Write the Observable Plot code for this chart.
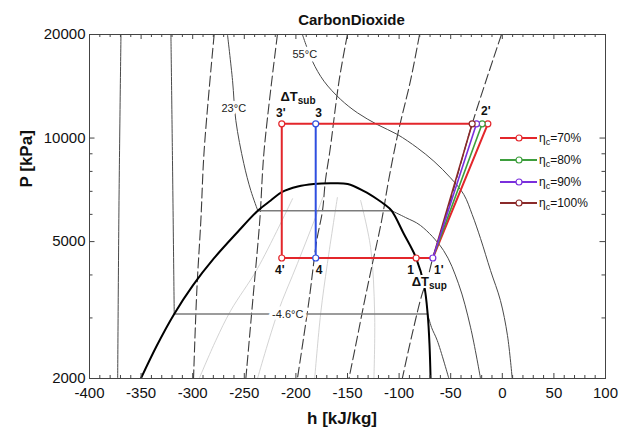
<!DOCTYPE html>
<html>
<head>
<meta charset="utf-8">
<script src="https://cdn.jsdelivr.net/npm/d3@7"></script>
<script src="https://cdn.jsdelivr.net/npm/@observablehq/plot@0.6"></script>
<style>
  body { margin: 0; background: #fff; }
  #wrap { position: relative; width: 640px; height: 440px; font-family: "Liberation Sans", Arial, sans-serif; }
  .lg { position: absolute; left: 500px; height: 16px; display: flex; align-items: center; font-size: 12px; color: #111; white-space: nowrap; }
  .lg svg { display: block; }
  .lg span { margin-left: 1px; }
  .lg sub { font-size: 9px; vertical-align: -3px; line-height: 0; }
</style>
</head>
<body>
<div id="wrap"></div>
<script>
// ---------- axis ticks ----------
const xTickLabels = [-400, -350, -300, -250, -200, -150, -100, -50, 0, 50, 100];
const yTickLabels = [2000, 5000, 10000, 20000];
const yMinorTicks = [3000, 4000, 6000, 7000, 8000, 9000];

// ---------- saturation dome ----------
const domeH = [-350.2, -334.7, -317.9, -299.8, -279.5, -256.9, -236.9, -224.4, -213.7, -198.2, -182.7, -166.3,
               -149.8, -134.1, -120.8, -114.0, -107.3, -95.6, -83.5, -75.7, -72.2, -70.5, -69.5];
const domeP = [2000, 2494, 3080, 3729, 4466, 5315, 6150, 6585, 6958, 7228, 7352, 7386,
               7352, 7006, 6628, 6408, 6150, 5278, 4480, 3729, 3048, 2494, 2000];

// ---------- isotherms ----------
const tLowH = [-369.5, -371.4, -372.7];
const tLowP = [20000, 6585, 2000];
const tM46LiqH = [-321.1, -319.7, -317.9];
const tM46LiqP = [20000, 9200, 3080];
const tM46TwoH = [-317.9, -72.4];
const tM46TwoP = [3080, 3080];
const tM46VapH = [-72.4, -68.5, -63.0, -51.8];
const tM46VapP = [3080, 2812, 2578, 2000];
const t23LiqH = [-266.3, -261.4, -258.2, -250.5, -243.7, -236.9];
const t23LiqP = [20000, 14707, 11247, 8434, 7038, 6150];
const t23TwoH = [-236.9, -107.3];
const t23TwoP = [6150, 6150];
const t23VapH = [-107.3, -93.7, -79.3, -56.9, -42.4, -30.8, -21.1];
const t23VapP = [6150, 5874, 5571, 4710, 3770, 2820, 2000];
const t55H = [-193.7, -184.0, -172.8, -156.6, -140.4, -121.1, -101.7, -82.4, -66.3, -50.2, -37.3, -29.2, -21.1, -11.4, -1.8, 5.0, 9.6];
const t55P = [20000, 16727, 14632, 12948, 11841, 10944, 10244, 9368, 8562, 7663, 6853, 5995, 5106, 4120, 3370, 2668, 2000];
const isoLabels = ["23°C", "55°C", "-4.6°C"];
const isoLabelH = [-260.2, -191.4, -207.9];
const isoLabelP = [12186, 17492, 3080];

// ---------- isentropes (dashed) ----------
const s1H = [-279.2, -288.9, -292.1, -296.0, -299.2];
const s1P = [20000, 9202, 5758, 3606, 2000];
const s2H = [-217.9, -230.8, -235.0, -241.8, -248.5];
const s2P = [20000, 9202, 5758, 3370, 2000];
const s3H = [-150.1, -158.1, -167.0, -171.4, -174.3, -179.8, -187.3, -198.5];
const s3P = [20000, 14707, 9202, 7526, 6128, 5038, 3370, 2000];
const s4H = [-80.2, -88.9, -100.5, -110.2, -116.9, -125.6, -133.4, -141.1, -148.6];
const s4P = [20000, 14707, 10520, 7526, 5758, 4348, 3370, 2580, 2000];
const s5H = [-0.8, -29.2, -50.2, -59.8, -67.3, -73.4, -77.5, -87.9, -96.9];
const s5P = [20000, 11000, 6585, 5244, 4480, 3805, 3534, 2649, 2000];

// ---------- constant-quality lines ----------
const q1H = [-293.7, -277.6, -263.1, -237.2, -203.3];
const q1P = [2000, 2580, 3153, 4177, 6660];
const q2H = [-237.2, -217.9, -198.5, -179.2, -174.0];
const q2P = [2000, 3090, 4319, 6076, 6718];
const q3H = [-181.8, -176.0, -169.5, -159.8];
const q3P = [2000, 3090, 4319, 6718];
const q4H = [-124.4, -123.7, -127.6, -137.3];
const q4P = [2000, 3090, 4806, 6585];

// ---------- cycle state points ----------
const pLow = 4480, pHigh = 11000;
const h1 = -83.5, h1p = -67.3, h3 = -180.8, h3p = -213.7;
const etaLabels = ["70%", "80%", "90%", "100%"];
const h2p = [-14.0, -19.5, -25.0, -29.2];
const etaColors = ["#e3262b", "#3d9e3d", "#7a2fdc", "#8a2a2a"];
const cRed = "#e3262b", cBlue = "#2f4fe0";

const pts = (H, P) => H.map((h, i) => ({h, P: P[i]}));
const ln = (H, P, o) => Plot.line(pts(H, P), {x: "h", y: "P", clip: true, ...o});

const isoStyle = {stroke: "#4a4a4a", strokeWidth: 1, curve: "catmull-rom"};
const twoStyle = {stroke: "#7c7c7c", strokeWidth: 1.4};
const sStyle = {stroke: "#3c3c3c", strokeWidth: 1.1, strokeDasharray: "10,4", curve: "catmull-rom"};
const qStyle = {stroke: "#c8c8c8", strokeWidth: 0.8, curve: "catmull-rom"};

const cycle = [
  {h: h2p[0], P: pHigh}, {h: h3p, P: pHigh}, {h: h3p, P: pLow}, {h: h1p, P: pLow}, {h: h2p[0], P: pHigh}
];
const compLines = [1, 3, 2].map(i => [{h: h1p, P: pLow, c: etaColors[i]}, {h: h2p[i], P: pHigh, c: etaColors[i]}]).flat();
const dots = [
  {h: h3p, P: pHigh, c: cRed}, {h: h3p, P: pLow, c: cRed}, {h: h1, P: pLow, c: cRed},
  {h: h3, P: pHigh, c: cBlue}, {h: h3, P: pLow, c: cBlue},
  {h: h1p, P: pLow, c: etaColors[2]},
  ...h2p.map((h, i) => ({h, P: pHigh, c: etaColors[i]}))
];
const ptLabel = (h, P, t, dx, dy) => Plot.text([{h, P}], {x: "h", y: "P", text: () => t, dx, dy,
  fontWeight: "bold", fontSize: 12, fill: "#111"});

const FH = 344, FW = 516;
const xMinor = d3.range(-400, 101, 10).filter(v => v % 50 !== 0);

const chart = Plot.plot({
  width: 640, height: 440,
  marginTop: 34, marginRight: 35, marginBottom: 62, marginLeft: 89,
  style: {fontFamily: "'Liberation Sans', Arial, sans-serif", fontSize: "15px", background: "white", color: "#222", overflow: "visible"},
  x: {domain: [-400, 100]},
  y: {type: "log", domain: [2000, 20000]},
  color: {type: "identity"},
  marks: [
    // quality lines
    ln(q1H, q1P, qStyle), ln(q2H, q2P, qStyle), ln(q3H, q3P, qStyle), ln(q4H, q4P, qStyle),
    // isentropes
    ln(s1H, s1P, sStyle), ln(s2H, s2P, sStyle), ln(s3H, s3P, sStyle), ln(s4H, s4P, sStyle), ln(s5H, s5P, sStyle),
    // isotherms
    ln(tLowH, tLowP, isoStyle),
    ln(tM46LiqH, tM46LiqP, isoStyle), ln(tM46VapH, tM46VapP, isoStyle), ln(tM46TwoH, tM46TwoP, twoStyle),
    ln(t23LiqH, t23LiqP, isoStyle), ln(t23VapH, t23VapP, isoStyle), ln(t23TwoH, t23TwoP, twoStyle),
    ln(t55H, t55P, isoStyle),
    Plot.text(isoLabels.map((t, i) => ({t, h: isoLabelH[i], P: isoLabelP[i]})),
      {x: "h", y: "P", text: "t", fontSize: 11, fill: "#222", stroke: "white", strokeWidth: 7}),
    // dome
    ln(domeH, domeP, {stroke: "#000", strokeWidth: 2, curve: "catmull-rom"}),
    // cycle
    Plot.line(cycle, {x: "h", y: "P", stroke: cRed, strokeWidth: 2}),
    Plot.line(compLines, {x: "h", y: "P", z: "c", stroke: "c", strokeWidth: 1.6}),
    Plot.line([{h: h3, P: pHigh}, {h: h3, P: pLow}], {x: "h", y: "P", stroke: cBlue, strokeWidth: 2}),
    Plot.dot(dots, {x: "h", y: "P", r: 3, fill: "white", stroke: "c", strokeWidth: 1.2}),
    // point labels
    ptLabel(h3p, pHigh, "3'", -1, -11),
    ptLabel(h3, pHigh, "3", 3, -11),
    ptLabel(h3p, pLow, "4'", -2, 12),
    ptLabel(h3, pLow, "4", 3.5, 12),
    ptLabel(h1, pLow, "1", -5.5, 12),
    ptLabel(h1p, pLow, "1'", 6, 12),
    ptLabel(h2p[0], pHigh, "2'", -2, -13),
    // delta T labels
    Plot.text([{h: (h3p + h3) / 2, P: pHigh}], {x: "h", y: "P", text: () => "ΔT", textAnchor: "end", dx: -1, dy: -27,
      fontWeight: "bold", fontSize: 13, fill: "#111"}),
    Plot.text([{h: (h3p + h3) / 2, P: pHigh}], {x: "h", y: "P", text: () => "sub", textAnchor: "start", dx: -1, dy: -23,
      fontWeight: "bold", fontSize: 10, fill: "#111"}),
    Plot.text([{h: (h1 + h1p) / 2, P: pLow}], {x: "h", y: "P", text: () => "ΔT", textAnchor: "end", dx: 4.5, dy: 24,
      fontWeight: "bold", fontSize: 13, fill: "#111", stroke: "white", strokeWidth: 4}),
    Plot.text([{h: (h1 + h1p) / 2, P: pLow}], {x: "h", y: "P", text: () => "sup", textAnchor: "start", dx: 4.5, dy: 27.5,
      fontWeight: "bold", fontSize: 10, fill: "#111", stroke: "white", strokeWidth: 4}),
    // frame and ticks (inward)
    Plot.frame({stroke: "#444", strokeWidth: 1}),
    Plot.tickX(xMinor, {x: d => d, insetTop: FH - 3, stroke: "#444"}),
    Plot.tickX(xTickLabels, {x: d => d, insetTop: FH - 5, stroke: "#444"}),
    Plot.tickX(xMinor, {x: d => d, insetBottom: FH - 3, stroke: "#444"}),
    Plot.tickX(xTickLabels, {x: d => d, insetBottom: FH - 5, stroke: "#444"}),
    Plot.tickY(yMinorTicks, {y: d => d, insetRight: FW - 3.5, stroke: "#444"}),
    Plot.tickY(yTickLabels, {y: d => d, insetRight: FW - 5.5, stroke: "#444"}),
    Plot.tickY(yMinorTicks, {y: d => d, insetLeft: FW - 3.5, stroke: "#444"}),
    Plot.tickY(yTickLabels, {y: d => d, insetLeft: FW - 5.5, stroke: "#444"}),
    Plot.axisX({ticks: xTickLabels, tickSize: 0, tickPadding: 9, label: null, fontSize: 15, tickFormat: d => String(d), fill: "#111"}),
    Plot.axisY({ticks: yTickLabels, tickSize: 0, tickPadding: 4, label: null, fontSize: 15, tickFormat: d => String(d), fill: "#111"}),
    // titles
    Plot.text(["CarbonDioxide"], {frameAnchor: "top", lineAnchor: "middle", dx: 4, dy: -14, fontWeight: "bold", fontSize: 15, fill: "#111"}),
    Plot.text(["h [kJ/kg]"], {frameAnchor: "bottom", lineAnchor: "middle", dx: -5.5, dy: 40.5, fontWeight: "bold", fontSize: 17, fill: "#111"}),
    Plot.text(["P [kPa]"], {frameAnchor: "left", lineAnchor: "middle", rotate: -90, dx: -63, dy: -19, fontWeight: "bold", fontSize: 17, fill: "#111"})
  ]
});

const wrap = document.getElementById("wrap");
wrap.appendChild(chart);

// legend
const legendY = [138, 160, 182, 203];
etaLabels.forEach((t, i) => {
  const d = document.createElement("div");
  d.className = "lg";
  d.style.top = (legendY[i] - 8) + "px";
  const c = etaColors[i];
  d.innerHTML = `<svg width="38" height="16"><line x1="0" x2="37" y1="8" y2="8" stroke="${c}" stroke-width="2"/>` +
    `<circle cx="19" cy="8" r="3" fill="white" stroke="${c}" stroke-width="1.2"/></svg>` +
    `<span>η<sub>c</sub>=${t}</span>`;
  wrap.appendChild(d);
});
</script>
</body>
</html>
